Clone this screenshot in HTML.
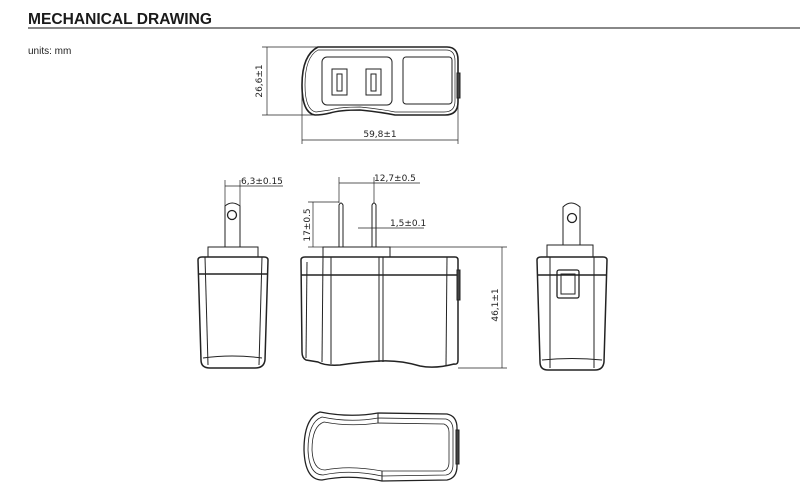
<!DOCTYPE html>
<html><head><meta charset="utf-8"><style>
body{margin:0;background:#fff;width:800px;height:490px;overflow:hidden;font-family:"Liberation Sans",sans-serif}
</style></head><body>
<svg width="800" height="490" viewBox="0 0 800 490" xmlns="http://www.w3.org/2000/svg">
<text x="28" y="24" font-family="Liberation Sans" font-weight="bold" font-size="16" fill="#1a1a1a" textLength="184" lengthAdjust="spacingAndGlyphs">MECHANICAL DRAWING</text>
<rect x="28" y="27" width="772" height="2" fill="#888"/>
<text x="28" y="54" font-size="10" fill="#222">units: mm</text>

<g fill="none" stroke="#222" stroke-width="1">
<!-- top view -->
<path d="M318,47 L447,47 Q458,47 458,60 L458,102 Q458,115 445,115 L395,115 Q380,112 360,110 Q340,110 330,113 Q322,115 315,115 Q302,113 302,85 Q302,55 318,47 Z" stroke-width="1.6"/>
<path d="M318,50 L446,50 Q455,50 455,61 L455,101 Q455,112 444,112 L395,112 Q380,109 360,107 Q340,107 330,110 L316,112 Q305,110 305,85 Q305,57 318,50 Z" stroke-width="0.7"/>
<rect x="322" y="57" width="70" height="48" rx="5"/>
<rect x="403" y="57" width="49" height="47" rx="3"/>
<rect x="332" y="69" width="15" height="26"/><rect x="337" y="74" width="5" height="17"/>
<rect x="366" y="69" width="15" height="26"/><rect x="371" y="74" width="5" height="17"/>
<rect x="457" y="73" width="3" height="25" fill="#444"/>
<g stroke-width="0.7">
<line x1="262" y1="47" x2="318" y2="47"/><line x1="262" y1="115" x2="315" y2="115"/>
<line x1="267" y1="47" x2="267" y2="115"/>
<line x1="302" y1="90" x2="302" y2="144"/><line x1="458" y1="100" x2="458" y2="144"/>
<line x1="302" y1="140" x2="458" y2="140"/>
</g>

<!-- left view -->
<path d="M225,247 L225,206 Q232,200 240,206 L240,247"/>
<circle cx="232" cy="215" r="4.5" stroke-width="1.3"/>
<rect x="208" y="247" width="50" height="10"/>
<path d="M198,260 Q198,257 202,257 L264,257 Q268,257 268,260 L265,360 Q264,368 255,368 L210,368 Q201,368 201,360 Z" stroke-width="1.5"/>
<line x1="198" y1="274" x2="268" y2="274" stroke-width="1.4"/>
<line x1="205" y1="257" x2="208" y2="365"/><line x1="262" y1="257" x2="259" y2="365"/>
<path d="M203,358 Q232,354 262,358"/>
<g stroke-width="0.7"><line x1="225" y1="180" x2="225" y2="206"/><line x1="240" y1="180" x2="240" y2="206"/><line x1="225" y1="186" x2="283" y2="186"/></g>

<!-- front view -->
<path d="M339,247 L339,205 Q341,201 343,205 L343,247"/>
<path d="M372,247 L372,205 Q374,201 376,205 L376,247"/>
<rect x="323" y="247" width="67" height="10"/>
<path d="M301,260 Q301,257 305,257 L455,257 Q458,257 458,260 L458,360 Q458,365 454,364 Q435,369 420,366 Q400,360 380,361 Q360,362 340,365 Q325,366 318,362 L306,360 Q302,358 302,352 Z" stroke-width="1.5"/>
<line x1="301" y1="275" x2="458" y2="275" stroke-width="1.4"/>
<line x1="323" y1="257" x2="322" y2="362"/><line x1="331" y1="257" x2="331" y2="364"/>
<line x1="379" y1="257" x2="379" y2="362"/><line x1="383" y1="257" x2="383" y2="362"/>
<line x1="447" y1="257" x2="446" y2="366"/><line x1="307" y1="262" x2="306" y2="358"/>
<rect x="457" y="270" width="3" height="30" fill="#444"/>
<g stroke-width="0.7">
<line x1="339" y1="177" x2="339" y2="203"/><line x1="374" y1="177" x2="374" y2="203"/>
<line x1="339" y1="183" x2="420" y2="183"/>
<line x1="308" y1="202" x2="339" y2="202"/><line x1="308" y1="247" x2="323" y2="247"/>
<line x1="313" y1="202" x2="313" y2="247"/>
<line x1="358" y1="228" x2="424" y2="228"/>
<line x1="390" y1="247" x2="507" y2="247"/><line x1="458" y1="368" x2="507" y2="368"/>
<line x1="502" y1="247" x2="502" y2="368"/>
</g>

<!-- right view -->
<path d="M563,245 L563,207 Q571,199 580,207 L580,245"/>
<circle cx="572" cy="218" r="4.5" stroke-width="1.3"/>
<rect x="547" y="245" width="46" height="12"/>
<path d="M537,260 Q537,257 541,257 L603,257 Q607,257 607,260 L604,362 Q603,370 595,370 L548,370 Q540,370 540,362 Z" stroke-width="1.5"/>
<line x1="537" y1="275" x2="607" y2="275" stroke-width="1.4"/>
<line x1="550" y1="257" x2="550" y2="368"/><line x1="594" y1="257" x2="594" y2="368"/>
<path d="M542,360 Q572,357 602,360"/>
<rect x="557" y="270" width="22" height="28" rx="2" stroke-width="1.3"/>
<rect x="561" y="274" width="14" height="20"/>

<!-- bottom view -->
<path d="M320,412 Q350,418 378,413 L447,414 Q457,416 457,428 L457,466 Q457,478 447,480 L382,481 Q350,474 322,480 Q305,480 304,450 Q304,418 320,412 Z" stroke-width="1.3"/>
<path d="M322,417 Q350,423 378,418 L446,419 Q453,421 453,430 L453,464 Q453,474 446,475 L382,476 Q350,469 323,475 Q309,475 308,450 Q308,422 322,417 Z" stroke-width="0.8"/>
<path d="M324,422 Q350,427 378,423 L444,424 Q449,426 449,432 L449,462 Q449,470 443,471 L382,471 Q350,465 325,470 Q313,470 312,450 Q312,426 324,422 Z" stroke-width="0.8"/>
<line x1="378" y1="413" x2="378" y2="423"/><line x1="382" y1="471" x2="382" y2="481"/>
<rect x="456" y="430" width="3" height="34" fill="#444"/>
</g>
<g fill="#222" font-family="DejaVu Sans,Liberation Sans,sans-serif" font-size="9">
<text x="262" y="81" text-anchor="middle" transform="rotate(-90 262 81)">26,6±1</text>
<text x="380" y="137" text-anchor="middle">59,8±1</text>
<text x="241" y="184">6,3±0.15</text>
<text x="374" y="181">12,7±0.5</text>
<text x="310" y="225" text-anchor="middle" transform="rotate(-90 310 225)">17±0.5</text>
<text x="390" y="226">1,5±0.1</text>
<text x="498" y="305" text-anchor="middle" transform="rotate(-90 498 305)">46,1±1</text>
</g>
</svg>
</body></html>
